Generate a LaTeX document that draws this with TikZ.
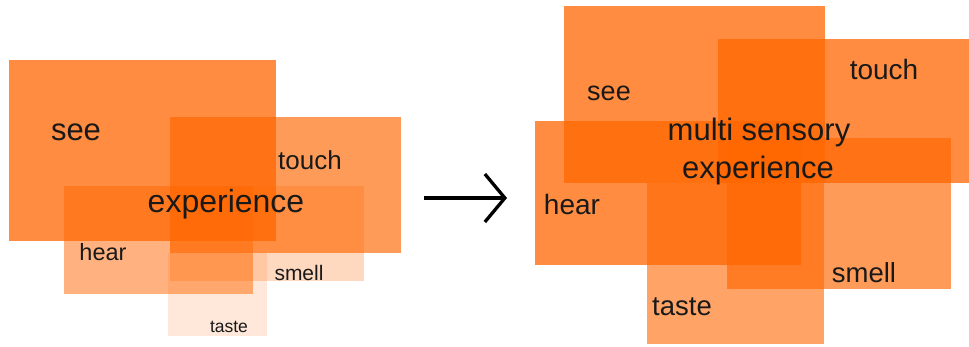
\documentclass[tikz,border=0pt]{standalone}
\usepackage{fontspec}
\setmainfont{Liberation Sans}
\usetikzlibrary{arrows.meta}
\definecolor{sense}{RGB}{255,102,0}
\tikzset{
    sense box/.style={fill=sense,fill opacity=#1},
    sense text/.style={anchor=base,inner sep=0pt,text=black!90,font=\fontsize{#1}{#1}\selectfont},
}

\begin{document}
\begin{tikzpicture}[x=1pt,y=-1pt]
        \useasboundingbox (0,0) rectangle (969,347);

        \fill[sense box=0.75] (9,60) rectangle (276,241);
        \fill[sense box=0.65] (170,117) rectangle (401,253);
        \fill[sense box=0.5] (64,186) rectangle (253,294);
        \fill[sense box=0.25] (170,186) rectangle (364,281);
        \fill[sense box=0.15] (168,253) rectangle (267,336);

        \node (see left) [sense text=31] at (76,141) {see};
        \node (touch left) [sense text=26] at (310,170) {touch};
        \node (experience left) [sense text=32] at (226,213) {experience};
        \node (hear left) [sense text=23.5] at (103,261) {hear};
        \node (smell left) [sense text=21] at (299,281) {smell};
        \node (taste left) [sense text=17.5] at (229,332) {taste};

        \fill[sense box=0.75] (564,6) rectangle (825,183);
        \fill[sense box=0.75] (718,39) rectangle (969,183);
        \fill[sense box=0.75] (535,121) rectangle (801,265);
        \fill[sense box=0.65] (727,138) rectangle (951,289);
        \fill[sense box=0.6] (647,183) rectangle (824,344);

        \node (see right) [sense text=27] at (609,101) {see};
        \node (touch right) [sense text=28] at (884,80) {touch};
        \node (multi sensory) [sense text=31] at (759,141) {multi sensory};
        \node (experience right) [sense text=31] at (758,179) {experience};
        \node (hear right) [sense text=28] at (572,215) {hear};
        \node (smell right) [sense text=27.5] at (864,283) {smell};
        \node (taste right) [sense text=27.5] at (682,316) {taste};

        \coordinate (arrow start) at (424,198);
        \coordinate (arrow end) at (507,198);
        \draw[line width=3.3pt,-{Straight Barb[length=20pt,width=48pt]}] (arrow start) -- (arrow end);
    \end{tikzpicture}
\end{document}
